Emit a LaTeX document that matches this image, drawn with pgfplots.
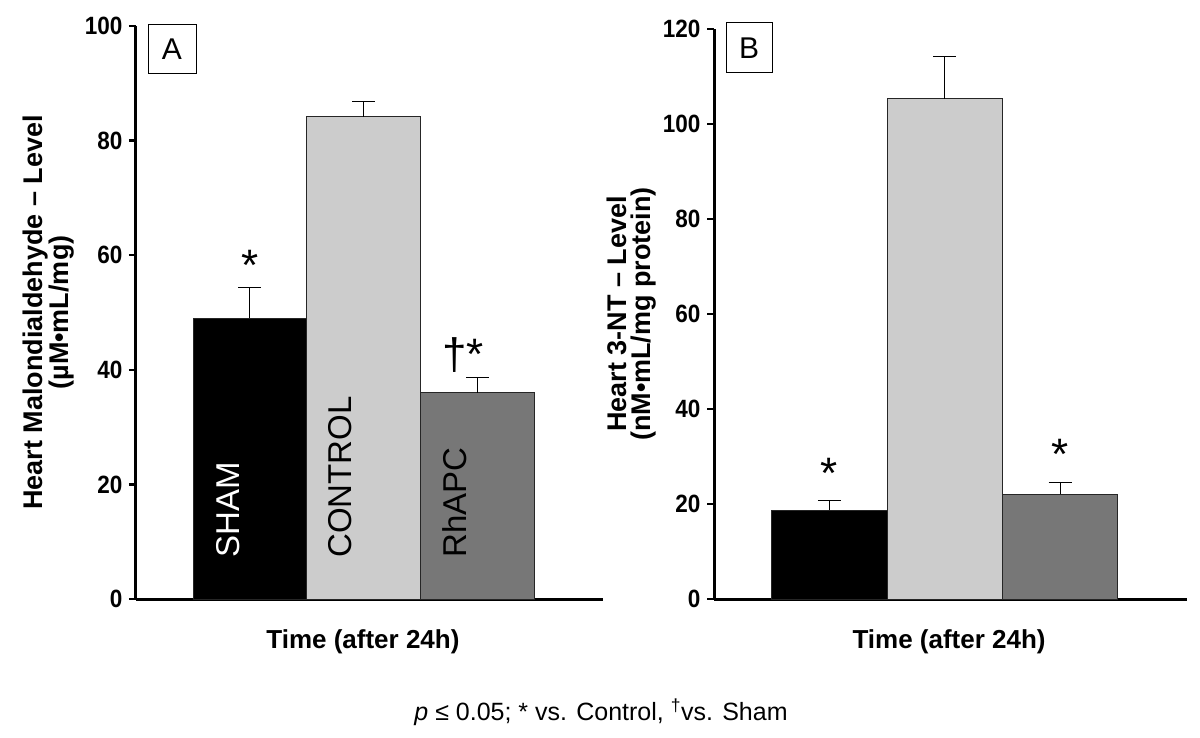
\documentclass[border=0pt]{standalone}
\usepackage{fontspec}
\setmainfont{Liberation Sans}
\newfontfamily\narrowsans[FakeStretch=0.9]{Liberation Sans}
\usepackage{pgfplots}
\pgfplotsset{compat=1.18}
\definecolor{ctrl}{HTML}{CCCCCC}
\definecolor{rhapc}{HTML}{777777}

\begin{document}
\begin{tikzpicture}
\useasboundingbox (0pt,0pt) rectangle (1200pt,737pt);
\pgfplotsset{
 panel/.style={
  scale only axis, anchor=south west,
  xmin=0, xmax=4.1, ymin=0,
  axis x line=bottom, axis y line=left,
  axis line style={-, line width=3pt},
  xtick=\empty,
  tick align=outside, major tick length=7pt,
  ytick style={line width=2.5pt, black},
  yticklabel style={font=\narrowsans\bfseries\fontsize{25}{29}\selectfont, xshift=-3pt},
  /pgf/number format/assume math mode=true,
  ylabel style={font=\bfseries\fontsize{27}{24}\selectfont, align=center},
  xlabel style={font=\bfseries\fontsize{26}{30}\selectfont},
  ybar, bar width=1,
  every axis plot/.append style={bar shift=0pt, draw=black!85, line width=0.8pt},
  error bars/y dir=plus, error bars/y explicit,
  error bars/error bar style={line width=1.1pt, black},
  error bars/error mark options={rotate=90, mark size=11.5pt, line width=1.1pt, black},
 }
}
% Panel A
\begin{axis}[panel, at={(136pt,138pt)}, width=467pt, height=573pt,
  ymax=100, ytick={0,20,...,100},
  ylabel={Heart Malondialdehyde – Level\\(µM•mL/mg)},
  ylabel style={at={(axis description cs:-0.188,0.5)}, anchor=center},
  xlabel={Time (after 24h)},
  xlabel style={at={(axis description cs:0.486,-0.075)}, anchor=center}]
\addplot[fill=black] coordinates {(1,49.0) +- (0,5.4)};
\addplot[fill=ctrl] coordinates {(2,84.2) +- (0,2.7)};
\addplot[fill=rhapc] coordinates {(3,36.0) +- (0,2.6)};
\node[rotate=90, anchor=base west, inner sep=0pt, text=white, font=\fontsize{33}{36}\selectfont] at (axis cs:0.905,7.2) {SHAM};
\node[rotate=90, anchor=base west, inner sep=0pt, text=black, font=\fontsize{33}{36}\selectfont] at (axis cs:1.89,7.2) {CONTROL};
\node[rotate=90, anchor=base west, inner sep=0pt, text=black, font=\fontsize{33}{36}\selectfont] at (axis cs:2.905,7.2) {RhAPC};
\node[anchor=base, inner sep=0pt, font=\fontsize{44}{48}\selectfont] at (axis cs:1,55.5) {*};
\node[anchor=base, inner sep=0pt, font=\fontsize{44}{48}\selectfont] at (axis cs:2.87,40.1) {†*};
\end{axis}
% Panel B
\begin{axis}[panel, at={(714pt,138pt)}, width=473pt, height=570pt,
  ymax=120, ytick={0,20,...,120},
  ylabel={Heart 3-NT – Level\\(nM•mL/mg protein)},
  ylabel style={at={(axis description cs:-0.174,0.5)}, anchor=center},
  xlabel={Time (after 24h)},
  xlabel style={at={(axis description cs:0.497,-0.075)}, anchor=center}]
\addplot[fill=black] coordinates {(1,18.7) +- (0,2.0)};
\addplot[fill=ctrl] coordinates {(2,105.3) +- (0,9.0)};
\addplot[fill=rhapc] coordinates {(3,22.0) +- (0,2.6)};
\node[anchor=base, inner sep=0pt, font=\fontsize{44}{48}\selectfont] at (axis cs:1,23.2) {*};
\node[anchor=base, inner sep=0pt, font=\fontsize{44}{48}\selectfont] at (axis cs:3,27.2) {*};
\end{axis}
% panel letters
\node[draw, line width=1pt, minimum width=48pt, minimum height=49pt, inner sep=0pt, font=\fontsize{30}{34}\selectfont] at (172pt,687.5pt) {A};
\node[draw, line width=1pt, minimum width=46pt, minimum height=50pt, inner sep=0pt, font=\fontsize{30}{34}\selectfont] at (749pt,689pt) {B};
% caption
\node[font=\fontsize{25}{30}\selectfont] at (601pt,25pt) {\textit{p} ≤ 0.05; * vs. Control, \textsuperscript{†}vs. Sham};
\end{tikzpicture}
\end{document}
